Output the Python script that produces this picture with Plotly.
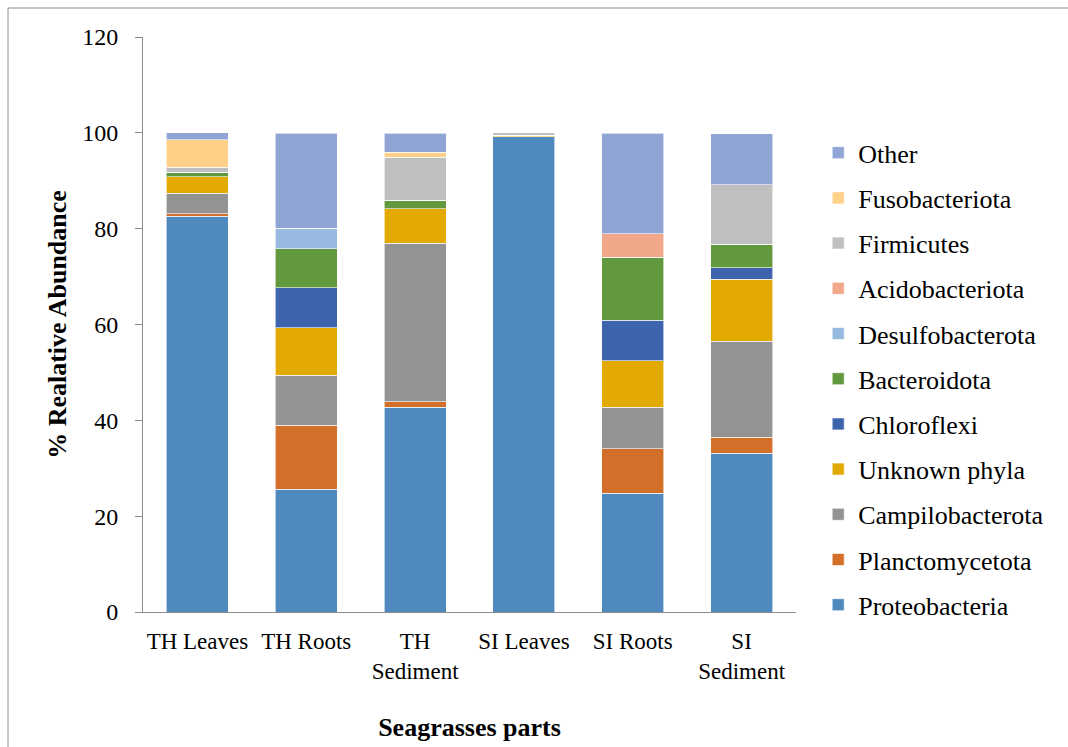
import plotly.graph_objects as go

categories = ["TH Leaves", "TH Roots", "TH<br>Sediment", "SI Leaves", "SI Roots", "SI<br>Sediment"]

proteobacteria   = [82.6, 25.6, 42.7, 99.2, 24.8, 33.1]
planctomycetota  = [0.55, 13.4, 1.2, 0.0, 9.3, 3.4]
campilobacterota = [4.2, 10.4, 33.1, 0.0, 8.6, 20.0]
unknown_phyla    = [3.5, 9.9, 7.2, 0.3, 9.7, 12.9]
chloroflexi      = [0.0, 8.4, 0.0, 0.0, 8.5, 2.4]
bacteroidota     = [0.9, 8.1, 1.7, 0.0, 13.1, 4.9]
desulfobacterota = [0.0, 4.3, 0.0, 0.0, 0.0, 0.0]
acidobacteriota  = [0.0, 0.0, 0.0, 0.0, 4.9, 0.0]
firmicutes       = [1.1, 0.0, 9.0, 0.5, 0.0, 12.5]
fusobacteriota   = [5.7, 0.0, 1.0, 0.0, 0.0, 0.0]
other            = [1.5, 19.8, 4.0, 0.0, 21.0, 10.6]

series = [
    ("Proteobacteria", proteobacteria, "#4F89BD"),
    ("Planctomycetota", planctomycetota, "#D46F2A"),
    ("Campilobacterota", campilobacterota, "#939393"),
    ("Unknown phyla", unknown_phyla, "#E2AA00"),
    ("Chloroflexi", chloroflexi, "#3D64AD"),
    ("Bacteroidota", bacteroidota, "#62993E"),
    ("Desulfobacterota", desulfobacterota, "#98B9E0"),
    ("Acidobacteriota", acidobacteriota, "#F0A78A"),
    ("Firmicutes", firmicutes, "#BFBFBF"),
    ("Fusobacteriota", fusobacteriota, "#FFD088"),
    ("Other", other, "#90A4D5"),
]

fig = go.Figure()
n = len(series)
for i, (name, vals, color) in enumerate(series):
    fig.add_trace(go.Bar(
        x=categories, y=vals, name=name, legendgroup=name,
        legendrank=1000 + (n - i),
        marker=dict(color=color, line=dict(color="rgba(255,255,255,0.6)", width=1)),
        width=0.57,
    ))

font_family = "Liberation Serif, Times New Roman, serif"

fig.update_layout(
    barmode="stack",
    width=1068, height=747,
    margin=dict(l=143, r=272, t=37, b=135),
    paper_bgcolor="white", plot_bgcolor="white",
    font=dict(family=font_family, color="black"),
    showlegend=True,
    legend=dict(
        x=1.034, xref="paper", xanchor="left", y=0.8395, yanchor="top",
        traceorder="grouped", tracegroupgap=8.4,
        font=dict(size=26, family=font_family, color="black"),
        bgcolor="rgba(0,0,0,0)",
    ),
    xaxis=dict(
        automargin=False,
        showline=True, linecolor="#8c8c8c", linewidth=1,
        ticks="", ticklabelstandoff=8,
        tickfont=dict(size=23, family=font_family, color="black"),
        title=dict(text="<b>Seagrasses parts</b>", font=dict(size=26, family=font_family, color="black"), standoff=35),
    ),
    yaxis=dict(
        automargin=False,
        range=[0, 120], dtick=20, showgrid=False, zeroline=False,
        showline=True, linecolor="#8c8c8c", linewidth=1,
        ticks="outside", ticklen=7, tickcolor="#8c8c8c", ticklabelstandoff=12,
        tickfont=dict(size=24, family=font_family, color="black"),
        title=dict(text="<b>% Realative Abundance</b>", font=dict(size=26, family=font_family, color="black"), standoff=8),
    ),
    shapes=[dict(type="rect", xref="paper", yref="paper",
                 x0=-135/653, x1=1.6, y0=-0.4, y1=1 + 29/575,
                 line=dict(color="#8c8c8c", width=1), fillcolor="rgba(0,0,0,0)", layer="below")],
)

fig.write_html("out.html")
